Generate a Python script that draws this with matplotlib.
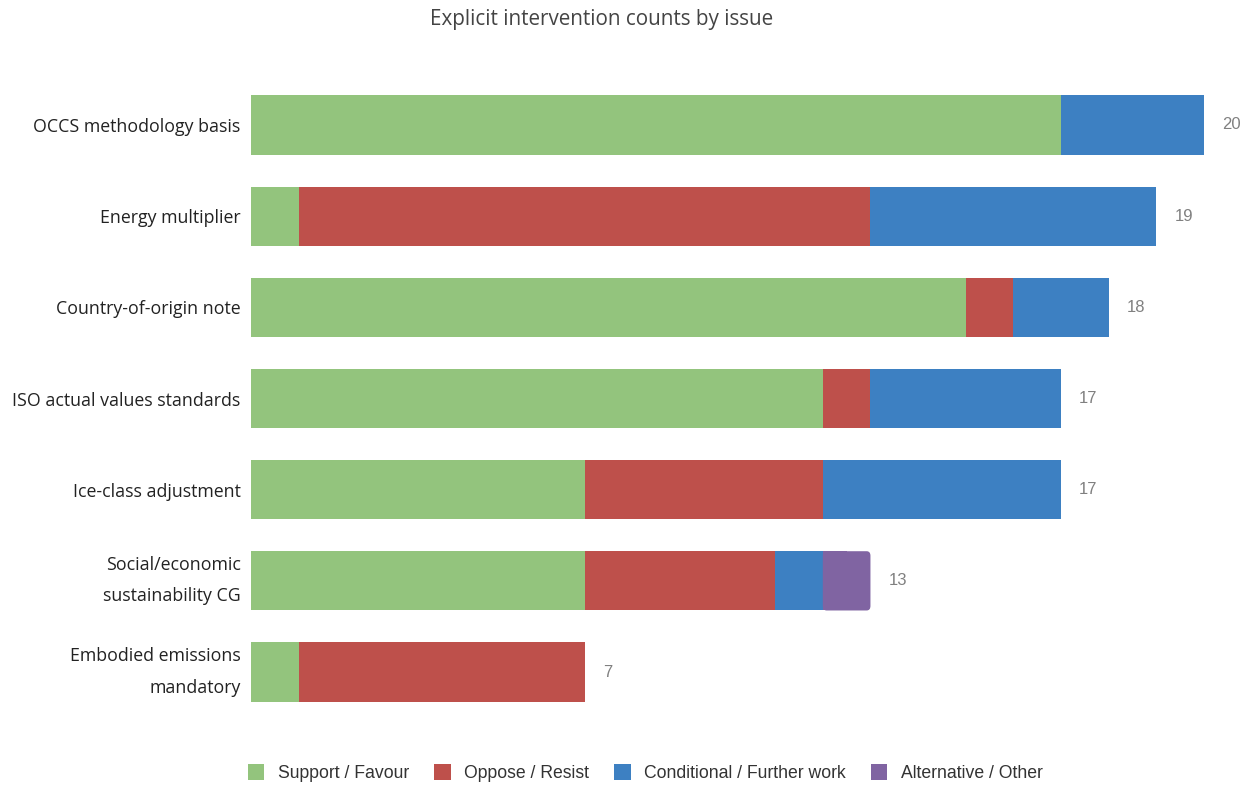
import matplotlib
matplotlib.use("Agg")
import matplotlib.pyplot as plt
from matplotlib.patches import FancyBboxPatch, Patch
import numpy as np

# data
issues = [
    "OCCS methodology basis",
    "Energy multiplier",
    "Country-of-origin note",
    "ISO actual values standards",
    "Ice-class adjustment",
    "Social/economic\nsustainability CG",
    "Embodied emissions\nmandatory",
]
support = [17, 1, 15, 12, 7, 7, 1]
oppose = [0, 12, 1, 1, 5, 4, 6]
conditional = [3, 6, 2, 4, 5, 1, 0]
alternative = [0, 0, 0, 0, 0, 1, 0]

series_names = ["Support / Favour", "Oppose / Resist", "Conditional / Further work", "Alternative / Other"]
colors = ["#93c47d", "#be504b", "#3d80c2", "#8064a2"]

fig = plt.figure(figsize=(12.51, 7.85), dpi=100)
ax = fig.add_axes([251 / 1251, 1 - 717.6 / 785, (1204 - 251) / 1251, (717.6 - 79.4) / 785])

y = np.arange(len(issues))
bar_h = 0.65
left = np.zeros(len(issues))
all_series = [support, oppose, conditional, alternative]
for k, (vals, col) in enumerate(zip(all_series, colors)):
    vals = np.array(vals, dtype=float)
    if k == 3:
        # last series: rounded on the right end only
        for yi, (l, v) in enumerate(zip(left, vals)):
            if v > 0:
                ax.add_patch(FancyBboxPatch((l, yi - bar_h / 2), v, bar_h,
                                            boxstyle="round,pad=0,rounding_size=0.08",
                                            mutation_aspect=1 / 1.6,
                                            facecolor=col, edgecolor="none"))
                ax.barh(yi, v / 2, left=l, height=bar_h, color=col, edgecolor="none")
    else:
        ax.barh(y, vals, left=left, height=bar_h, color=col, edgecolor="none")
    left += vals

totals = left
for yi, t in enumerate(totals):
    ax.text(t + 0.38, yi, f"{int(t)}", va="center", ha="left", fontsize=12,
            color="#808080", family="Liberation Sans")

ax.set_xlim(0, 20)
ax.set_ylim(len(issues) - 0.5, -0.5)
ax.set_yticks(y)
ax.set_yticklabels(issues, fontsize=12.8, family="Open Sans", color="#222222", linespacing=1.95)
for lab in ax.get_yticklabels():
    if "\n" in lab.get_text():
        lab.set_verticalalignment("center")
ax.tick_params(axis="y", length=0, pad=7.5)
ax.set_xticks([])
for s in ax.spines.values():
    s.set_visible(False)

fig.text(602 / 1251, 1 - 20 / 785, "Explicit intervention counts by issue", ha="center", va="center",
         fontsize=14.9, family="Open Sans", color="#444444")

handles = [Patch(facecolor=c, edgecolor="none") for c in colors]
fig.legend(handles, series_names, loc="center", bbox_to_anchor=(645 / 1251, 1 - 773 / 785),
           ncol=4, frameon=False, prop={"family": "Liberation Sans", "size": 12.7},
           handlelength=0.95, handleheight=1.05, handletextpad=0.75, columnspacing=1.42,
           labelcolor="#333333")

fig.savefig("out.png", dpi=100)
